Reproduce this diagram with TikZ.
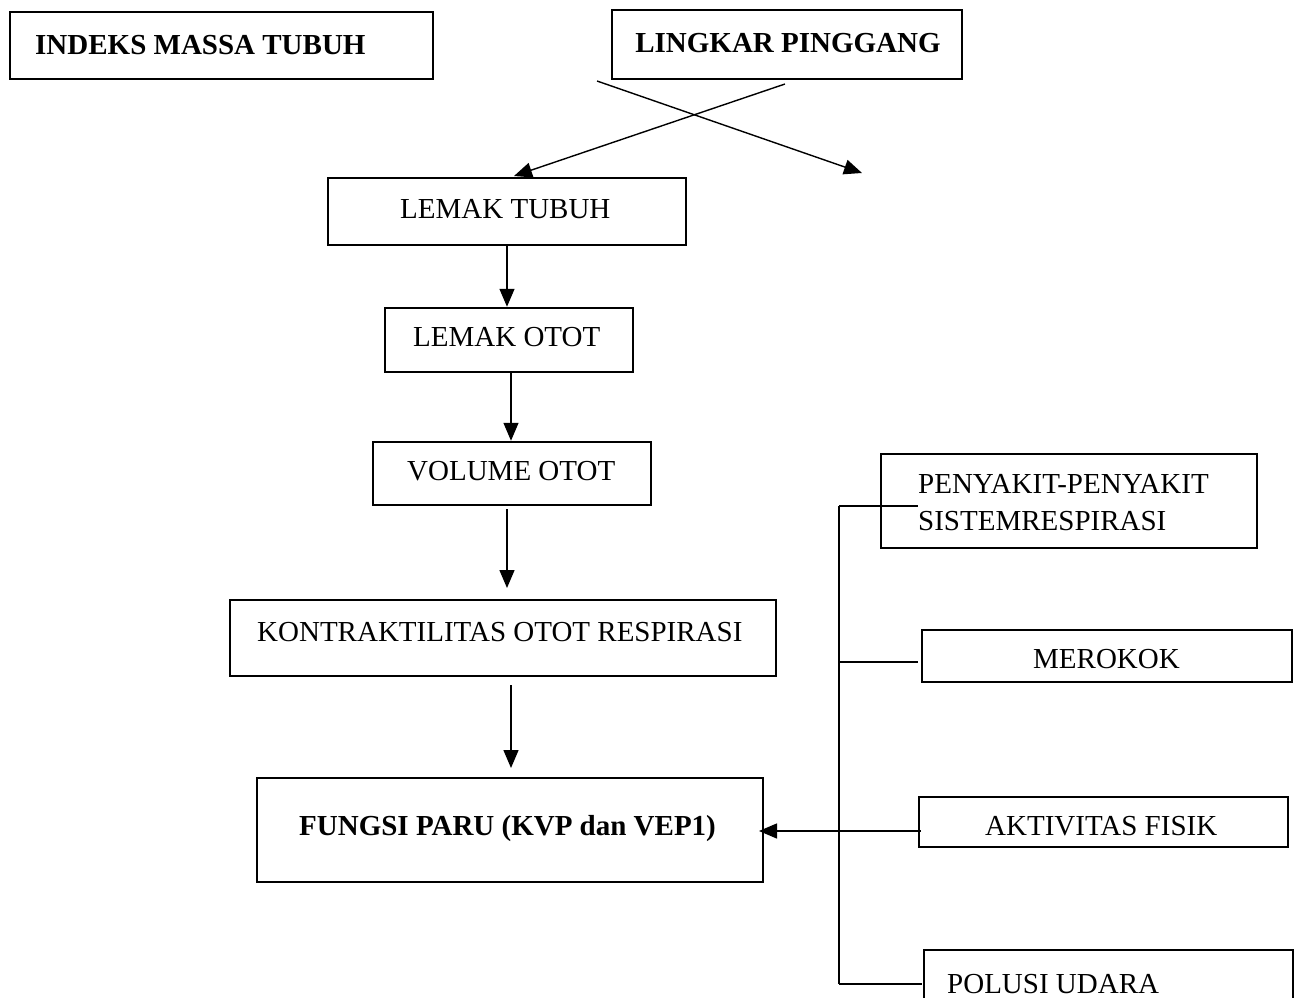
\documentclass[tikz,border=0pt]{standalone}
\usepackage{fontspec}
\setmainfont{Liberation Serif}
\usetikzlibrary{arrows.meta,calc}
\tikzset{
  box/.style={draw=black, line width=2.5pt, inner sep=0pt, rectangle},
  lbl/.style={inner sep=0pt, anchor=base west, font=\fontsize{29}{34}\selectfont},
  conn/.style={draw=black, line width=1.4pt},
  arr/.style={conn, -{Triangle[length=18pt,width=15pt]}}
}
\begin{document}
\begin{tikzpicture}[x=1pt,y=-1pt]
\useasboundingbox (0,0) rectangle (1302,998);
\clip (0,0) rectangle (1302,998);
\fill[white] (0,0) rectangle (1302,998);
% boxes
\node[box, minimum width=423pt, minimum height=67pt] (imt) at (221.5,45.5) {};
\node[box, minimum width=350pt, minimum height=69pt] (lp) at (787,44.5) {};
\node[box, minimum width=358pt, minimum height=67pt] (lt) at (507,211.5) {};
\node[box, minimum width=248pt, minimum height=64pt] (lo) at (509,340) {};
\node[box, minimum width=278pt, minimum height=63pt] (vo) at (512,473.5) {};
\node[box, minimum width=546pt, minimum height=76pt] (ko) at (503,638) {};
\node[box, minimum width=506pt, minimum height=104pt] (fp) at (510,830) {};
\node[box, minimum width=376pt, minimum height=94pt] (ps) at (1069,501) {};
\node[box, minimum width=370pt, minimum height=52pt] (me) at (1107,656) {};
\node[box, minimum width=369pt, minimum height=50pt] (ak) at (1103.5,822) {};
\node[box, minimum width=369pt, minimum height=60pt] (pu) at (1108.5,980) {};
% labels
\node[lbl] (timt) at (35,55) {\bfseries INDEKS MASSA TUBUH};
\node[lbl, anchor=base] (tlp) at (788,53) {\bfseries LINGKAR PINGGANG};
\node[lbl] (tlt) at (400,218) {LEMAK TUBUH};
\node[lbl] (tlo) at (413,346) {LEMAK OTOT};
\node[lbl] (tvo) at (407,480) {VOLUME OTOT};
\node[lbl] (tko) at (257,641) {KONTRAKTILITAS OTOT RESPIRASI};
\node[lbl] (tfp) at (299,835) {\bfseries FUNGSI PARU (KVP dan VEP1)};
\node[lbl] (tps1) at (918,493) {PENYAKIT-PENYAKIT};
\node[lbl] (tps2) at (918,530) {SISTEMRESPIRASI};
\node[lbl] (tme) at (1033,668) {MEROKOK};
\node[lbl] (tak) at (985,835) {AKTIVITAS FISIK};
\node[lbl] (tpu) at (947,993) {POLUSI UDARA};
% crossing arrows
\coordinate (a1) at (597,81);
\coordinate (a2) at (862,173);
\coordinate (b1) at (785,84);
\coordinate (b2) at (514,176);
\draw[arr] (a1) -- (a2);
\draw[arr] (b1) -- (b2);
% vertical chain
\draw[arr] (lt.south) -- (lt.south |- lo.north);
\draw[arr] ([xshift=2pt]lo.south) -- ([xshift=2pt]lo.south |- vo.north);
\coordinate (k1) at ($(vo.south)+(-5,0)$);
\draw[arr] ([yshift=-3pt]k1) -- (k1 |- 0,588);
\coordinate (f1) at (511,685);
\draw[arr] (f1) -- (f1 |- 0,768);
% right-hand bus
\coordinate (bt) at (839,506);
\coordinate (bm) at (839,662);
\coordinate (ba) at (839,831);
\coordinate (bb) at (839,984);
\draw[conn] (bt) -- (bb);
\draw[conn] (bt) -- ++(79,0);
\draw[conn] (bm) -- ++(79,0);
\draw[conn] (bb) -- ([xshift=-1pt]pu.west |- bb);
\draw[arr] ([xshift=3pt]ak.west |- ba) -- (759,831);
\end{tikzpicture}
\end{document}
